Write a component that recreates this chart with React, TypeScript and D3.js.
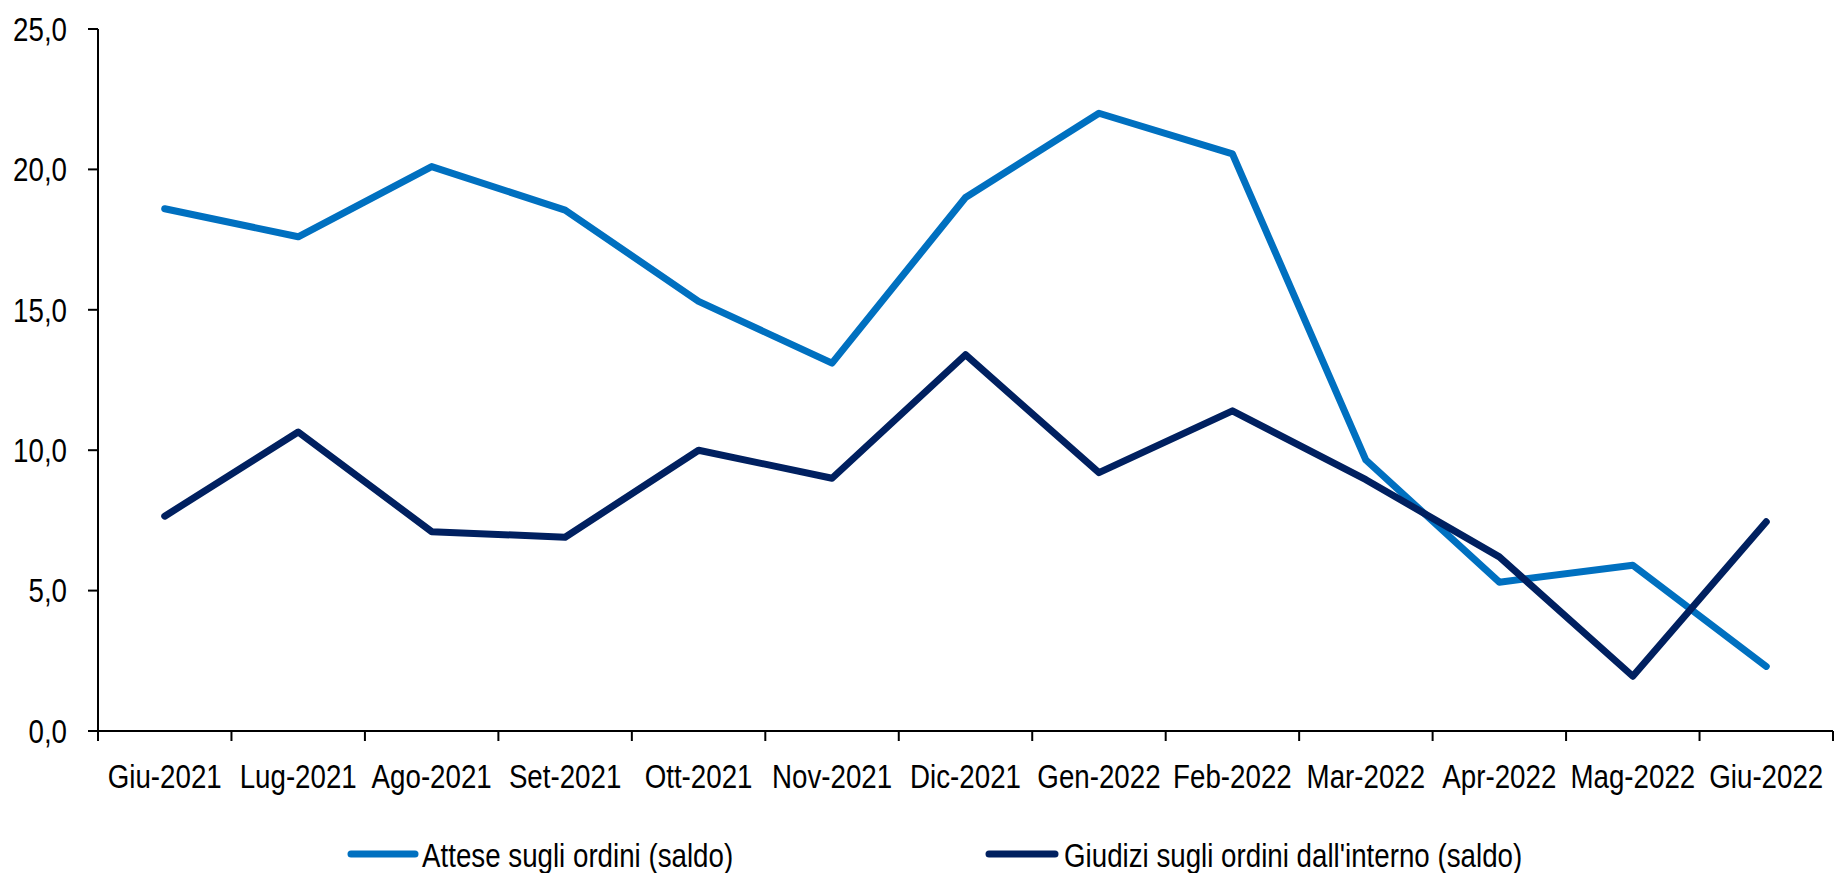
import React from "react";
import * as d3 from "d3";

const categories = ["Giu-2021","Lug-2021","Ago-2021","Set-2021","Ott-2021","Nov-2021","Dic-2021","Gen-2022","Feb-2022","Mar-2022","Apr-2022","Mag-2022","Giu-2022"];
const attese = [18.6, 17.6, 20.1, 18.55, 15.3, 13.1, 19.0, 22.0, 20.55, 9.65, 5.3, 5.9, 2.3];
const giudizi = [7.65, 10.65, 7.1, 6.9, 10.0, 9.0, 13.4, 9.2, 11.4, 8.95, 6.2, 1.95, 7.45];
const yTicks = [0, 5, 10, 15, 20, 25];
const seriesNames = ["Attese sugli ordini (saldo)", "Giudizi sugli ordini dall'interno (saldo)"];
const colors = ["#0070C0", "#002060"];

const W = 1834, H = 873;
const left = 98, right = 1833, top = 29, bottom = 731;
const FONT = "'Liberation Sans', Arial, sans-serif";
const SX = 0.84;

function NText(props: { x: number; y: number; anchor?: string; children: React.ReactNode; dy?: string }) {
  return (
    <g transform={`translate(${props.x},${props.y}) scale(${SX},1)`}>
      <text x={0} y={0} dy={props.dy} textAnchor={props.anchor || "start"} fontSize={33} fill="#000">{props.children}</text>
    </g>
  );
}

export default function App() {
  const x = d3.scaleBand().domain(categories).range([left, right]).padding(0);
  const y = d3.scaleLinear().domain([0, 25]).range([bottom, top]);
  const line = d3.line<number>()
    .x((_, i) => (x(categories[i]) as number) + x.bandwidth() / 2)
    .y((d) => y(d));
  const fmt = (v: number) => v.toFixed(1).replace(".", ",");
  const boundaries = categories.map((c) => x(c) as number).concat([right]);
  const legendLine = [[351, 415], [989, 1055]];
  const legendText = [422, 1064];
  return (
    <svg width={W} height={H} style={{ position: "absolute", left: 0, top: 0, background: "#fff" }} fontFamily={FONT}>
      <rect width={W} height={H} fill="#fff" />
      {[attese, giudizi].map((s, i) => (
        <path key={i} d={line(s) || ""} fill="none" stroke={colors[i]} strokeWidth={7} strokeLinejoin="round" strokeLinecap="round" />
      ))}
      {/* y axis */}
      <line x1={left} x2={left} y1={top} y2={bottom} stroke="#000" strokeWidth={2} />
      {yTicks.map((t) => (
        <g key={t}>
          <line x1={left - 10} x2={left} y1={y(t)} y2={y(t)} stroke="#000" strokeWidth={2} />
          <NText x={67} y={y(t)} dy="0.36em" anchor="end">{fmt(t)}</NText>
        </g>
      ))}
      {/* x axis */}
      <line x1={left - 10} x2={right} y1={bottom} y2={bottom} stroke="#000" strokeWidth={2} />
      {boundaries.map((bx, i) => (
        <line key={i} x1={bx} x2={bx} y1={bottom} y2={bottom + 10} stroke="#000" strokeWidth={2} />
      ))}
      {categories.map((c) => (
        <NText key={c} x={(x(c) as number) + x.bandwidth() / 2} y={788} anchor="middle">{c}</NText>
      ))}
      {/* legend */}
      {seriesNames.map((n, i) => (
        <g key={n}>
          <line x1={legendLine[i][0]} x2={legendLine[i][1]} y1={854} y2={854} stroke={colors[i]} strokeWidth={7} strokeLinecap="round" />
          <NText x={legendText[i]} y={867}>{n}</NText>
        </g>
      ))}
    </svg>
  );
}
